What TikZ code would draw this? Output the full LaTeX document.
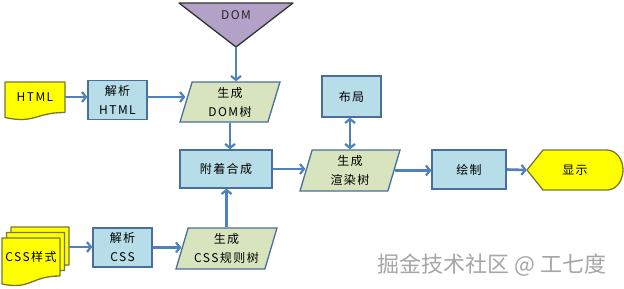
\documentclass[tikz,border=0pt]{standalone}
\usepackage{fontspec}
\setmainfont{Noto Sans CJK SC}[LetterSpace=12]
\newfontfamily\wmfont{Noto Sans CJK SC}
\usetikzlibrary{shapes.geometric,arrows.meta,backgrounds,calc}
\definecolor{boxfill}{HTML}{B7DDE8}
\definecolor{boxline}{HTML}{4A6F9C}
\definecolor{parafill}{HTML}{D7E4BD}
\definecolor{trifill}{HTML}{B3A2C7}
\definecolor{yel}{HTML}{FFFF00}
\definecolor{yelline}{HTML}{77772F}
\definecolor{arrowc}{HTML}{4F81BD}
\tikzset{
  bluebox/.style={draw=boxline, fill=boxfill, line width=1.3pt, align=center, inner sep=0pt},
  parabox/.style={trapezium, trapezium left angle=68, trapezium right angle=112,
    trapezium stretches body, draw=boxline, fill=parafill, line width=1.3pt, align=center, inner sep=0pt},
  textonly/.style={inner sep=0pt, align=center},
  conn/.style={draw=arrowc, line width=2.6pt, -{Straight Barb[length=4pt,width=10pt,line width=2.2pt]}},
  dconn/.style={draw=arrowc, line width=2.6pt, {Straight Barb[length=4pt,width=10pt,line width=2.2pt]}-{Straight Barb[length=4pt,width=10pt,line width=2.2pt]}},
  yshape/.style={draw=yelline, fill=yel, line width=1.3pt, line join=round},
}
\begin{document}
\begin{tikzpicture}[x=1pt,y=-1pt, font=\fontsize{12}{19}\selectfont]
\useasboundingbox (0,0) rectangle (624,289);
\fill[white] (0,0) rectangle (624,289);

% DOM triangle
\draw[draw=black!80, fill=trifill, line width=1.3pt, line join=round] (179,3) -- (293,3) -- (236,47) -- cycle;
\node[textonly, text=black!85] (dom) at (236,15) {DOM};
\coordinate (domtip) at (236,47);

% HTML document
\draw[yshape] (5,82) -- (65,82) -- (65,112.5) .. controls (35,112.5) and (35,124) .. (5,117.5) -- cycle;
\node[textonly, minimum width=60pt, minimum height=30pt] (html) at (35,97) {HTML};
\coordinate (htmlout) at (65,97);

\node[bluebox, minimum width=59pt, minimum height=39pt] (parsehtml) at (117.5,100) {解析\\HTML};
\node[parabox, minimum width=100pt, minimum height=40pt] (domtree) at (230,102) {生成\\DOM树};
\node[bluebox, minimum width=92pt, minimum height=38pt] (attach) at (226,169) {附着合成};
\node[bluebox, minimum width=59pt, minimum height=41pt] (layout) at (351.5,96.5) {布局};
\node[parabox, minimum width=100pt, minimum height=41pt] (render) at (350,170.5) {生成\\渲染树};
\node[bluebox, minimum width=74pt, minimum height=39pt] (paint) at (469,169.5) {绘制};

% display shape
\draw[yshape] (527,170) -- (543,150) -- (607,150) .. controls (615.8,150) and (623,159) .. (623,170)
  .. controls (623,181) and (615.8,190) .. (607,190) -- (543,190) -- cycle;
\node[textonly, minimum width=96pt, minimum height=40pt] (display) at (575,170) {显示};

% CSS stacked documents
\foreach \dx/\dy in {9/-11, 4.5/-5.5, 0/0}{
  \draw[yshape] (2+\dx,238+\dy) -- (60+\dx,238+\dy) -- (60+\dx,276+\dy)
    .. controls (31+\dx,276+\dy) and (31+\dx,290+\dy) .. (2+\dx,284+\dy) -- cycle;
}
\node[textonly, minimum width=58pt, minimum height=30pt] (cssdoc) at (31,257) {CSS样式};
\coordinate (cssout) at (69,247);

\node[bluebox, minimum width=59pt, minimum height=39pt] (parsecss) at (122.5,247.5) {解析\\CSS};
\node[parabox, minimum width=101pt, minimum height=41pt] (csstree) at (226.5,248.5) {生成\\CSS规则树};
\coordinate (phout) at (147,97);

% connectors
\draw[conn] (htmlout) -- (htmlout -| parsehtml.west);
\draw[conn] (domtip) -- (domtip |- domtree.north);
\draw[conn] (phout) -- (phout -| domtree.west);
\draw[conn] (domtree.south) -- (domtree.south |- attach.north);
\draw[conn] (attach.east) -- (attach.east -| render.west);
\draw[dconn] (render.north) -- (render.north |- layout.south);
\draw[conn] (render.east) -- (render.east -| paint.west);
\draw[conn] (paint.east) -- (display.west);
\draw[conn] (cssout) -- (cssout -| parsecss.west);
\draw[conn] (parsecss.east) -- (parsecss.east -| csstree.west);
\draw[conn] (csstree.north) -- (csstree.north |- attach.south);

% watermark
\node[textonly, font=\wmfont\fontsize{22}{22}\selectfont, text=black!35] (wm) at (492,265) {掘金技术社区 @ 工七度};
\end{tikzpicture}
\end{document}
